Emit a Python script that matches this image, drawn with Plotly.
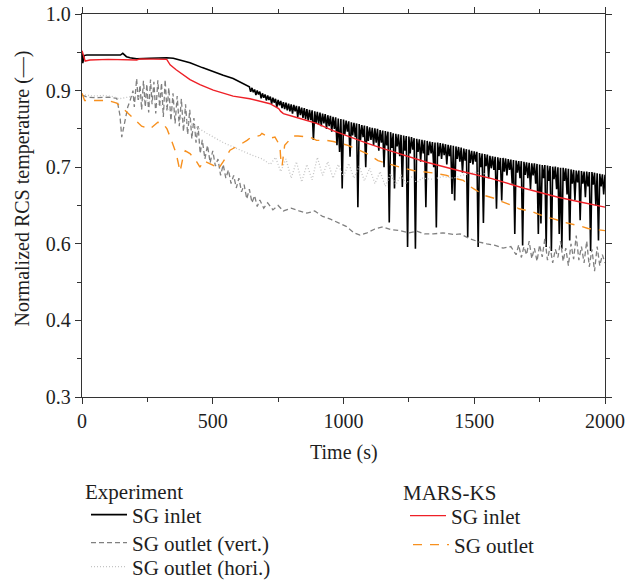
import plotly.graph_objects as go

# ---------------- data ----------------
exp_inlet = [(0,0.930),(3,0.910),(8,0.924),(18,0.925),(80,0.925),(147,0.925),(156,0.928),(170,0.922),
             (184,0.920),(209,0.918),(260,0.919),(324,0.920),(349,0.919),(380,0.915),(413,0.911),(460,0.902),
             (502,0.894),(540,0.888),(578,0.882),(610,0.875),(630,0.870),
             (640,0.867),(645,0.858),(650,0.865),(655,0.857),(660,0.862),(665,0.852),(670,0.860),(675,0.853),
             (680,0.858),(685,0.846),(690,0.855),(695,0.847),(700,0.853),(705,0.842),(710,0.851),(715,0.843),
             (720,0.849),(725,0.836),(730,0.847),(735,0.838),(740,0.845),(745,0.830),(750,0.843),(755,0.833),
             (760,0.841),(765,0.828),(770,0.839),(775,0.826),(780,0.838),(785,0.824),(790,0.836),(795,0.822),
             (800,0.835),(805,0.818),(810,0.834),(815,0.822),(820,0.832),(825,0.812),(830,0.831),(835,0.815),
             (840,0.829),(845,0.810),(850,0.828),(855,0.808),(860,0.826),(865,0.805),(870,0.825),(875,0.806),
             (880,0.824),(885,0.770),(890,0.822),(895,0.800),(900,0.821),(905,0.798),(910,0.820),(915,0.795),
             (920,0.818),(925,0.800),(930,0.817),(935,0.790),(940,0.815),(945,0.795),(950,0.814),(955,0.785),
             (960,0.812),(965,0.790),(970,0.811),(975,0.760),(980,0.809),(985,0.748),(990,0.808),(995,0.681),
             (1000,0.807),(1005,0.780),(1010,0.805),(1015,0.785),(1020,0.804),(1025,0.739),(1030,0.802),(1035,0.778),
             (1040,0.801),(1045,0.775),(1050,0.800),(1055,0.647),(1060,0.799),(1065,0.770),(1070,0.797),(1075,0.775),
             (1080,0.796),(1085,0.720),(1090,0.795),(1095,0.768),(1100,0.793),(1105,0.770),(1110,0.792),(1115,0.760),
             (1120,0.791),(1125,0.765),(1130,0.790),(1135,0.750),(1140,0.788),(1145,0.765),(1150,0.787),(1155,0.720),
             (1160,0.786),(1165,0.760),(1170,0.785),(1175,0.619),(1180,0.784),(1185,0.755),(1190,0.782),(1195,0.681),
             (1200,0.781),(1205,0.758),(1210,0.780),(1215,0.740),(1220,0.779),(1225,0.684),(1230,0.778),(1235,0.750),
             (1240,0.777),(1245,0.574),(1250,0.776),(1255,0.745),(1260,0.775),(1265,0.752),(1270,0.773),(1275,0.571),
             (1280,0.772),(1285,0.748),(1290,0.771),(1295,0.730),(1300,0.770),(1305,0.745),(1310,0.769),(1315,0.647),
             (1320,0.768),(1325,0.742),(1330,0.767),(1335,0.745),(1340,0.766),(1345,0.720),(1350,0.765),(1355,0.610),
             (1360,0.765),(1365,0.740),(1370,0.764),(1375,0.735),(1380,0.763),(1385,0.742),(1390,0.762),(1395,0.725),
             (1400,0.761),(1405,0.740),(1410,0.760),(1415,0.671),(1420,0.759),(1425,0.659),(1430,0.758),(1435,0.735),
             (1440,0.757),(1445,0.730),(1450,0.756),(1455,0.710),(1460,0.754),(1465,0.732),(1470,0.753),(1475,0.592),
             (1480,0.752),(1485,0.728),(1490,0.750),(1495,0.725),(1500,0.749),(1505,0.730),(1510,0.748),(1515,0.574),
             (1520,0.746),(1525,0.720),(1530,0.745),(1535,0.618),(1540,0.744),(1545,0.722),(1550,0.743),(1555,0.700),
             (1560,0.741),(1565,0.718),(1570,0.740),(1575,0.715),(1580,0.739),(1585,0.644),(1590,0.738),(1595,0.715),
             (1600,0.737),(1605,0.659),(1610,0.737),(1615,0.712),(1620,0.736),(1625,0.705),(1630,0.735),(1635,0.715),
             (1640,0.734),(1645,0.690),(1650,0.733),(1655,0.598),(1660,0.732),(1665,0.710),(1670,0.731),(1675,0.700),
             (1680,0.731),(1685,0.577),(1690,0.730),(1695,0.706),(1700,0.729),(1705,0.700),(1710,0.728),(1715,0.680),
             (1720,0.727),(1725,0.705),(1730,0.727),(1735,0.690),(1740,0.726),(1745,0.598),(1750,0.725),(1755,0.617),
             (1760,0.724),(1765,0.700),(1770,0.724),(1775,0.574),(1780,0.723),(1785,0.695),(1790,0.722),(1795,0.567),
             (1800,0.721),(1805,0.698),(1810,0.721),(1815,0.680),(1820,0.720),(1825,0.598),(1830,0.719),(1835,0.571),
             (1840,0.719),(1845,0.695),(1850,0.718),(1855,0.670),(1860,0.717),(1865,0.586),(1870,0.716),(1875,0.690),
             (1880,0.715),(1885,0.660),(1890,0.714),(1895,0.692),(1900,0.714),(1905,0.623),(1910,0.713),(1915,0.690),
             (1920,0.712),(1925,0.665),(1930,0.712),(1935,0.685),(1940,0.711),(1945,0.567),(1950,0.711),(1955,0.688),
             (1960,0.710),(1965,0.650),(1970,0.709),(1975,0.586),(1980,0.708),(1985,0.685),(1990,0.707),(1995,0.670),
             (2000,0.706)]

exp_outlet_vert = [(0,0.852),(20,0.848),(60,0.847),(100,0.848),(133,0.846),(145,0.815),(152,0.775),(158,0.790),
                   (164,0.800),(175,0.830),(184,0.842),(195,0.860),(200,0.830),(209,0.882),(215,0.840),(222,0.870),
                   (228,0.825),(235,0.878),(242,0.830),(248,0.872),(255,0.820),(262,0.880),(268,0.835),(275,0.876),
                   (282,0.818),(290,0.879),(297,0.830),(304,0.874),(311,0.812),(318,0.880),(325,0.822),(332,0.865),
                   (340,0.805),(348,0.855),(356,0.800),(364,0.850),(372,0.795),(380,0.845),(388,0.785),(396,0.835),
                   (404,0.780),(412,0.825),(420,0.772),(428,0.810),(436,0.765),(444,0.795),(452,0.745),(460,0.770),
                   (470,0.735),(480,0.760),(490,0.728),(500,0.750),(510,0.722),(520,0.735),(530,0.705),(540,0.725),
                   (550,0.700),(560,0.715),(570,0.690),(580,0.705),(590,0.682),(600,0.700),(610,0.675),(620,0.688),
                   (630,0.662),(640,0.680),(650,0.655),(660,0.668),(670,0.648),(680,0.660),(695,0.645),(710,0.655),
                   (730,0.642),(750,0.650),(770,0.640),(800,0.645),(830,0.640),(860,0.636),(890,0.640),(920,0.630),
                   (950,0.625),(980,0.618),(1010,0.612),(1040,0.600),(1063,0.596),(1090,0.600),(1120,0.607),
                   (1150,0.611),(1180,0.606),(1216,0.604),(1250,0.600),(1280,0.603),(1310,0.598),(1343,0.598),
                   (1380,0.600),(1420,0.597),(1446,0.598),(1480,0.590),(1520,0.583),(1548,0.580),(1580,0.577),
                   (1610,0.572),(1640,0.575),(1660,0.560),(1670,0.578),(1680,0.555),(1690,0.575),(1700,0.560),
                   (1710,0.585),(1720,0.553),(1730,0.572),(1740,0.548),(1750,0.578),(1760,0.556),(1770,0.590),
                   (1780,0.550),(1790,0.575),(1800,0.545),(1810,0.570),(1820,0.555),(1830,0.585),(1840,0.548),
                   (1850,0.572),(1860,0.540),(1870,0.580),(1880,0.552),(1890,0.595),(1900,0.550),(1910,0.575),
                   (1920,0.545),(1930,0.585),(1940,0.538),(1950,0.570),(1960,0.530),(1970,0.575),(1980,0.540),
                   (1990,0.560),(2000,0.545)]

exp_outlet_hori = [(0,0.853),(40,0.850),(80,0.851),(120,0.849),(140,0.845),(200,0.850),(260,0.840),(320,0.830),
                   (380,0.810),(430,0.795),(477,0.782),(540,0.765),(600,0.752),(650,0.742),(690,0.735),(720,0.725),
                   (740,0.738),(760,0.712),(780,0.735),(800,0.700),(820,0.730),(840,0.693),(860,0.725),(880,0.697),
                   (900,0.738),(920,0.705),(940,0.730),(960,0.700),(980,0.725),(1000,0.703),(1020,0.727),(1040,0.700),
                   (1060,0.722),(1080,0.695),(1100,0.718),(1120,0.690),(1140,0.712),(1160,0.685),(1180,0.708),
                   (1200,0.688),(1220,0.705),(1240,0.690),(1260,0.702),(1280,0.692),(1300,0.700),(1340,0.698),
                   (1380,0.703),(1420,0.700),(1460,0.706),(1500,0.711),(1540,0.708)]

mars_inlet = [(0,0.933),(5,0.925),(12,0.914),(30,0.916),(100,0.917),(209,0.916),(222,0.918),(324,0.917),
              (337,0.907),(360,0.898),(413,0.880),(451,0.871),(502,0.861),(578,0.850),(642,0.845),(719,0.836),
              (745,0.828),(752,0.827),(760,0.822),(770,0.818),(834,0.809),(897,0.800),(960,0.787),(1025,0.775),
              (1089,0.764),(1152,0.754),(1235,0.741),(1318,0.729),(1439,0.714),(1567,0.699),(1694,0.681),
              (1821,0.665),(1910,0.656),(2000,0.647)]

mars_outlet = [(0,0.855),(10,0.842),(100,0.842),(133,0.837),(171,0.821),(196,0.809),(228,0.795),(260,0.790),
               (290,0.802),(310,0.800),(325,0.790),(339,0.773),(349,0.760),(360,0.745),(367,0.730),(375,0.712),
               (385,0.735),(395,0.750),(413,0.745),(440,0.729),(451,0.720),(465,0.732),(478,0.729),(500,0.724),
               (520,0.716),(540,0.730),(566,0.751),(578,0.754),(600,0.760),(631,0.769),(642,0.773),(681,0.778),
               (688,0.782),(720,0.773),(738,0.775),(750,0.765),(757,0.757),(760,0.736),(765,0.722),(775,0.760),
               (807,0.777),(826,0.777),(872,0.775),(897,0.769),(937,0.769),(961,0.767),(998,0.763),(1017,0.760),
               (1050,0.753),(1071,0.748),(1089,0.745),(1132,0.732),(1152,0.729),(1197,0.723),(1216,0.720),
               (1266,0.714),(1285,0.713),(1331,0.711),(1350,0.709),(1395,0.705),(1414,0.701),(1458,0.696),
               (1477,0.687),(1500,0.680),(1530,0.672),(1541,0.668),(1592,0.661),(1606,0.657),(1656,0.648),
               (1671,0.644),(1721,0.639),(1740,0.635),(1782,0.628),(1801,0.626),(1847,0.619),(1866,0.617),
               (1916,0.611),(1935,0.608),(2000,0.604)]

x_ticks = [0, 500, 1000, 1500, 2000]
x_minor = [250, 750, 1250, 1750]
y_ticks = [0.30, 0.44, 0.58, 0.72, 0.86, 1.00]
y_ticktext = ["0.3", "0.4", "0.6", "0.7", "0.9", "1.0"]
y_minor = [0.37, 0.51, 0.65, 0.79, 0.93]
group_titles = ["Experiment", "MARS-KS"]
x_title = "Time (s)"
y_title = "Normalized RCS temperature (—)"


def split(pairs):
    return [p[0] for p in pairs], [p[1] for p in pairs]


FONT = "Liberation Serif"
TXT = "#1e1e1e"
W, H = 636, 580
PL, PR, PT, PB = 82, 605, 14, 397   # plot-area edges in pixels


def px_x(p):
    return (p - PL) / (PR - PL)


def px_y(p):
    return (PB - p) / (PB - PT)


fig = go.Figure()

# (data, name, line style, legend id, legend left px, legend item centre px)
series = [
    (exp_inlet, "SG inlet", dict(color="black", width=1.6), "legend", 86, 515),
    (exp_outlet_vert, "SG outlet (vert.)", dict(color="#808080", width=1.3, dash="5px,3px"), "legend3", 86, 543),
    (exp_outlet_hori, "SG outlet (hori.)", dict(color="#c4c4c4", width=1.3, dash="1px,2px"), "legend4", 86, 567),
    (mars_inlet, "SG inlet", dict(color="#ee2027", width=1.4), "legend2", 405, 516),
    (mars_outlet, "SG outlet", dict(color="#f7901e", width=1.4, dash="9px,8px"), "legend5", 408, 545),
]
legends = {}
for data, name, line, leg, lx, ly in series:
    xs, ys = split(data)
    fig.add_trace(go.Scatter(x=xs, y=ys, mode="lines", name=name, line=line, legend=leg))
    legends[leg] = dict(
        xref="container", yref="container", x=lx / W, y=1 - ly / H,
        xanchor="left", yanchor="middle", bgcolor="rgba(0,0,0,0)", borderwidth=0,
        itemwidth=36, font=dict(family=FONT, size=21, color=TXT),
    )

axis_common = dict(
    showline=True, linecolor="#333333", linewidth=1.3, mirror="allticks",
    ticks="outside", ticklen=6, tickwidth=1.2, tickcolor="#333333",
    showgrid=False, zeroline=False,
    tickfont=dict(family=FONT, size=20, color=TXT),
)

fig.update_xaxes(
    range=[0, 2000], tickmode="array", tickvals=x_ticks,
    minor=dict(tickmode="array", tickvals=x_minor, ticks="outside", ticklen=4, tickcolor="#333333"),
    **axis_common,
)
fig.update_yaxes(
    range=[0.3, 1.0], tickmode="array", tickvals=y_ticks, ticktext=y_ticktext,
    minor=dict(tickmode="array", tickvals=y_minor, ticks="outside", ticklen=4, tickcolor="#333333"),
    **axis_common,
)

ann_font = dict(family=FONT, size=20, color=TXT)
fig.update_layout(
    width=W, height=H,
    margin=dict(l=PL, r=W - PR, t=PT, b=H - PB, autoexpand=False),
    plot_bgcolor="white", paper_bgcolor="white",
    showlegend=True,
    annotations=[
        dict(text=x_title, xref="paper", yref="paper", x=px_x(343.5), y=px_y(452),
             xanchor="center", yanchor="middle", showarrow=False, font=ann_font),
        dict(text=y_title, xref="paper", yref="paper", x=px_x(22.5), y=px_y(189), textangle=-90,
             xanchor="center", yanchor="middle", showarrow=False, font=ann_font),
        dict(text=group_titles[0], xref="paper", yref="paper", x=px_x(83), y=px_y(492),
             xanchor="left", yanchor="middle", showarrow=False, font=dict(family=FONT, size=21, color=TXT)),
        dict(text=group_titles[1], xref="paper", yref="paper", x=px_x(401), y=px_y(493),
             xanchor="left", yanchor="middle", showarrow=False, font=dict(family=FONT, size=21, color=TXT)),
    ],
    **legends,
)

fig.write_html("out.html")
